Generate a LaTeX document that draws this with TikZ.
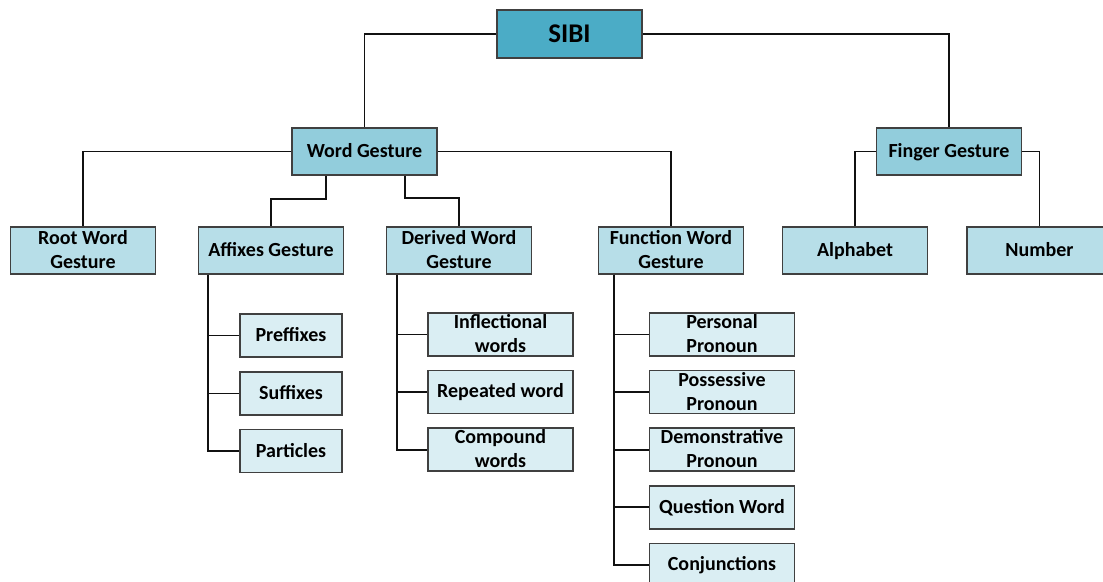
\documentclass[tikz,border=0pt]{standalone}
\usepackage{fontspec}
\setmainfont{Carlito}
\definecolor{topfill}{HTML}{4BACC6}
\definecolor{midfill}{HTML}{92CDDC}
\definecolor{lowfill}{HTML}{B7DEE8}
\definecolor{leaffill}{HTML}{DAEEF3}
\definecolor{boxline}{HTML}{404040}
\definecolor{conn}{HTML}{111111}
\newcommand\bstrut{\rule[-2pt]{0pt}{16.8pt}}
\newcommand\tstrut{\rule[-2.7pt]{0pt}{22pt}}
\begin{document}
\begin{tikzpicture}[x=1pt,y=-1pt,
  box/.style={draw=boxline, line width=1.5pt, rectangle, inner sep=0pt, align=center,
    minimum width=145pt, minimum height=47pt,
    font=\fontsize{20}{24}\selectfont\bfseries,
    execute at begin node=\bstrut, execute at end node=\bstrut},
  topbox/.style={box, fill=topfill, minimum height=48pt, font=\fontsize{27}{30}\selectfont\bfseries,
    execute at begin node=\tstrut, execute at end node=\tstrut},
  midbox/.style={box, fill=midfill},
  lowbox/.style={box, fill=lowfill},
  leafbox/.style={box, fill=leaffill, minimum height=43pt},
  smallleaf/.style={leafbox, minimum width=102pt},
  link/.style={draw=conn, line width=1.8pt}
]
\clip (0,0) rectangle (1103,581);
\fill[white] (0,0) rectangle (1103,581);

\node[topbox] (sibi) at (569.5,34) {SIBI};
\node[midbox] (word) at (364.5,151.5) {Word Gesture};
\node[midbox] (finger) at (949,151.5) {Finger Gesture};

\node[lowbox] (root) at (83,250.5) {Root Word\\Gesture};
\node[lowbox] (affix) at (271,250.5) {Affixes Gesture};
\node[lowbox] (derived) at (459,250.5) {Derived Word\\Gesture};
\node[lowbox] (func) at (671,250.5) {Function Word\\Gesture};
\node[lowbox] (alpha) at (855,250.5) {Alphabet};
\node[lowbox] (number) at (1039.5,250.5) {Number};

\node[smallleaf] (pref) at (291,335.5) {Preffixes};
\node[smallleaf] (suff) at (291,393.5) {Suffixes};
\node[smallleaf] (part) at (291,451) {Particles};

\node[leafbox] (infl) at (500.5,334.5) {Inflectional\\words};
\node[leafbox] (rep) at (500.5,392) {Repeated word};
\node[leafbox] (comp) at (500.5,449.7) {Compound\\words};

\node[leafbox] (pers) at (722,334.5) {Personal\\Pronoun};
\node[leafbox] (poss) at (722,392) {Possessive\\Pronoun};
\node[leafbox] (demo) at (722,449.7) {Demonstrative\\Pronoun};
\node[leafbox] (ques) at (722,507.3) {Question Word};
\node[leafbox] (conj) at (722,565) {Conjunctions};

\coordinate (wa) at (326,199);
\coordinate (wd) at (405,198);

\draw[link] (sibi.west) -| (word.north);
\draw[link] (sibi.east) -| (finger.north);
\draw[link] (word.west) -| (root.north);
\draw[link] (word.east) -| (func.north);
\draw[link] (word.south -| wa) -- (wa) -| (affix.north);
\draw[link] (word.south -| wd) -- (wd) -| (derived.north);
\draw[link] (finger.west) -| (alpha.north);
\draw[link] (finger.east) -| (number.north);

\draw[link] ([xshift=10pt]affix.south west) |- (pref.west);
\draw[link] ([xshift=10pt]affix.south west) |- (suff.west);
\draw[link] ([xshift=10pt]affix.south west) |- (part.west);

\draw[link] ([xshift=11pt]derived.south west) |- (infl.west);
\draw[link] ([xshift=11pt]derived.south west) |- (rep.west);
\draw[link] ([xshift=11pt]derived.south west) |- (comp.west);

\draw[link] ([xshift=16pt]func.south west) |- (pers.west);
\draw[link] ([xshift=16pt]func.south west) |- (poss.west);
\draw[link] ([xshift=16pt]func.south west) |- (demo.west);
\draw[link] ([xshift=16pt]func.south west) |- (ques.west);
\draw[link] ([xshift=16pt]func.south west) |- (conj.west);
\end{tikzpicture}
\end{document}
